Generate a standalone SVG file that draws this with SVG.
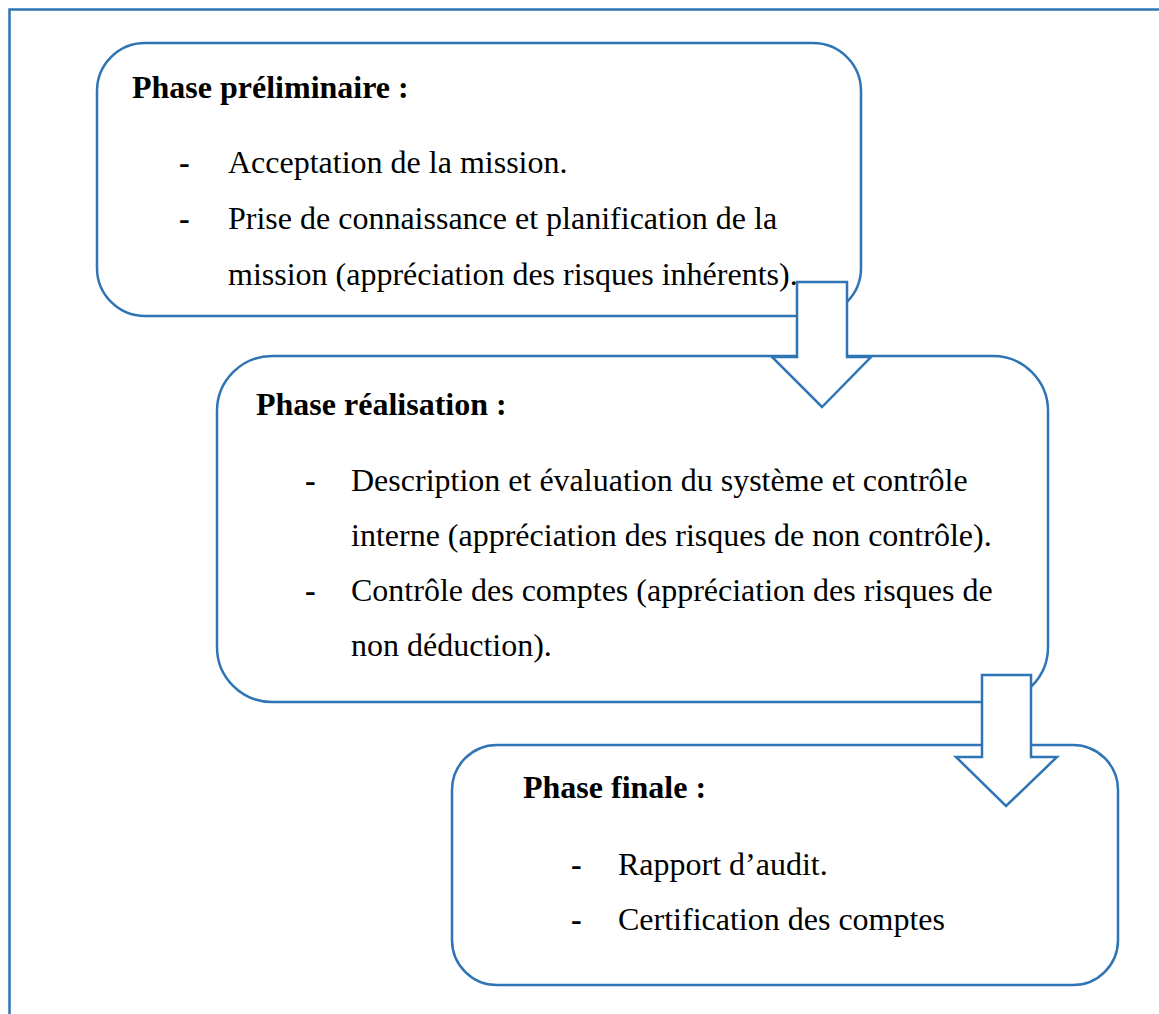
<svg xmlns="http://www.w3.org/2000/svg" width="1159" height="1014" viewBox="0 0 1159 1014">
<style>
.box{fill:#fff;stroke:#2F74B5;stroke-width:2.5}
.arrow{fill:#fff;stroke:#2F74B5;stroke-width:2.5;stroke-linejoin:miter}
.frame{fill:none;stroke:#2F74B5;stroke-width:2.5}
.t{font-family:"Liberation Serif","Times New Roman",serif;font-size:32px;fill:#000}
.b{font-weight:bold}
</style>
<rect width="1159" height="1014" fill="#fff"/>
<path class="frame" d="M9.5,1014 V9.5 H1159"/>
<g id="node-preliminaire">
<rect class="box" x="97" y="43" width="764" height="273" rx="48" ry="48"/>
<text class="t b" x="132" y="98">Phase préliminaire :</text>
<text class="t b" x="179" y="173">-</text>
<text class="t" x="228" y="173">Acceptation de la mission.</text>
<text class="t b" x="179" y="229">-</text>
<text class="t" x="228" y="229">Prise de connaissance et planification de la</text>
<text class="t" x="228" y="285">mission (appréciation des risques inhérents).</text>
</g>
<g id="node-realisation">
<rect class="box" x="217" y="356" width="831" height="346" rx="55" ry="55"/>
<text class="t b" x="256" y="415">Phase réalisation :</text>
<text class="t b" x="305" y="491">-</text>
<text class="t" x="351" y="491">Description et évaluation du système et contrôle</text>
<text class="t" x="351" y="546">interne (appréciation des risques de non contrôle).</text>
<text class="t b" x="305" y="601">-</text>
<text class="t" x="351" y="601">Contrôle des comptes (appréciation des risques de</text>
<text class="t" x="351" y="656">non déduction).</text>
</g>
<g id="node-finale">
<rect class="box" x="452" y="745" width="666" height="240" rx="45" ry="45"/>
<text class="t b" x="523" y="798">Phase finale :</text>
<text class="t b" x="571" y="875">-</text>
<text class="t" x="618" y="875">Rapport d’audit.</text>
<text class="t b" x="571" y="930">-</text>
<text class="t" x="618" y="930">Certification des comptes</text>
</g>
<g id="connectors">
<path class="arrow" d="M797,282 H847 V357 H871 L822,407 L772,357 H797 Z"/>
<path class="arrow" d="M982,675 H1031 V757 H1057 L1006,806 L956,757 H982 Z"/>
</g>
</svg>
